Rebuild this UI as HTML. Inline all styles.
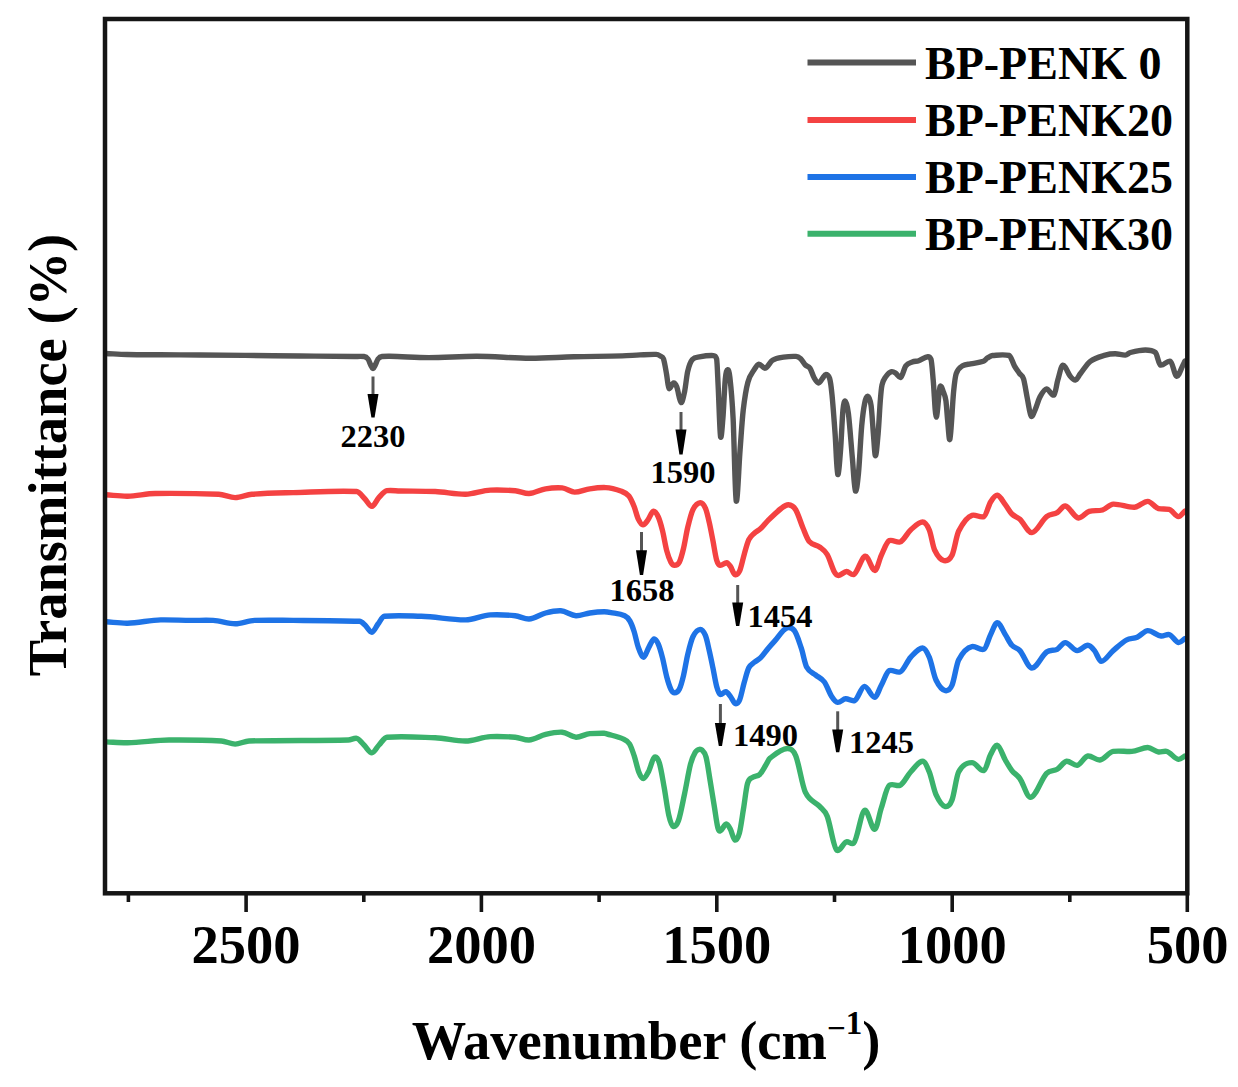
<!DOCTYPE html>
<html><head><meta charset="utf-8"><style>
html,body{margin:0;padding:0;background:#fff;}
body{width:1238px;height:1087px;overflow:hidden;}
svg{display:block;}
text{font-family:"Liberation Serif",serif;font-weight:bold;fill:#000;}
</style></head><body>
<svg width="1238" height="1087" viewBox="0 0 1238 1087">
<g fill="none" stroke-width="5.4" stroke-linejoin="round" stroke-linecap="round"><path d="M106.0 353.5C113.00 353.83 120.00 354.33 127.0 354.5C138.00 354.76 149.00 354.72 160.0 354.8C173.33 354.89 186.67 354.91 200.0 355.0C215.00 355.11 230.00 355.25 245.0 355.4C263.33 355.58 281.67 355.81 300.0 356.0C318.00 356.18 336.00 356.43 354.0 356.5C357.33 356.51 360.67 356.20 364.0 356.5C365.33 356.62 366.67 357.22 368.0 359.0C369.67 361.22 371.33 368.50 373.0 368.5C374.67 368.50 376.33 361.22 378.0 359.0C379.33 357.22 380.67 356.60 382.0 356.5C384.57 356.30 387.13 356.27 389.7 356.3C402.63 356.45 415.57 357.60 428.5 357.6C444.63 357.60 460.77 356.24 476.9 356.3C494.67 356.36 512.43 358.25 530.2 358.3C544.73 358.34 559.27 357.18 573.8 356.8C589.97 356.38 606.13 356.36 622.3 355.9C628.20 355.73 634.10 355.16 640.0 354.9C645.40 354.66 650.80 354.23 656.2 354.4C657.70 354.45 659.20 355.30 660.7 356.2C661.63 356.76 662.57 356.20 663.5 358.8C664.53 361.68 665.57 368.72 666.6 374.4C667.37 378.62 668.13 388.03 668.9 388.5C670.47 389.46 672.03 383.16 673.6 383.0C674.67 382.89 675.73 384.07 676.8 386.9C678.20 390.61 679.60 402.18 681.0 402.6C682.20 402.96 683.40 397.21 684.6 391.6C685.63 386.77 686.67 375.54 687.7 371.3C689.27 364.87 690.83 361.41 692.4 359.6C694.73 356.90 697.07 357.34 699.4 356.9C704.10 356.01 708.80 355.34 713.5 355.6C714.53 355.66 715.57 355.60 716.6 358.8C717.13 360.45 717.67 376.47 718.2 386.9C719.00 402.54 719.80 434.34 720.6 437.0C721.37 439.55 722.13 427.64 722.9 418.2C723.70 408.34 724.50 387.36 725.3 379.1C726.07 371.19 726.83 369.83 727.6 369.7C728.37 369.57 729.13 370.74 729.9 377.5C730.97 386.91 732.03 397.27 733.1 418.2C734.13 438.47 735.17 498.79 736.2 501.1C737.50 504.01 738.80 466.34 740.1 449.5C741.13 436.11 742.17 419.32 743.2 410.4C744.77 396.88 746.33 388.00 747.9 382.2C750.00 374.43 752.10 373.14 754.2 369.7C755.77 367.14 757.33 364.31 758.9 364.2C760.97 364.06 763.03 368.50 765.1 368.2C767.57 367.85 770.03 361.77 772.5 360.3C776.17 358.11 779.83 357.81 783.5 357.2C787.67 356.51 791.83 356.21 796.0 356.4C797.57 356.47 799.13 357.37 800.7 358.8C802.27 360.23 803.83 363.42 805.4 365.0C806.93 366.55 808.47 365.97 810.0 368.2C811.33 370.14 812.67 375.23 814.0 377.5C815.57 380.17 817.13 382.93 818.7 383.0C820.00 383.06 821.30 379.90 822.6 378.3C823.63 377.03 824.67 374.40 825.7 374.4C827.00 374.40 828.30 374.40 829.6 378.3C830.40 380.70 831.20 386.61 832.0 394.7C833.03 405.15 834.07 419.43 835.1 433.9C835.97 446.03 836.83 473.27 837.7 474.5C838.67 475.87 839.63 461.42 840.6 449.5C841.37 440.05 842.13 418.31 842.9 410.4C843.70 402.14 844.50 400.77 845.3 401.0C846.33 401.29 847.37 405.19 848.4 413.5C849.70 423.96 851.00 442.91 852.3 457.3C853.33 468.74 854.37 489.69 855.4 491.0C856.43 492.31 857.47 483.66 858.5 473.0C859.57 461.99 860.63 437.92 861.7 426.0C862.73 414.45 863.77 407.55 864.8 402.6C865.83 397.65 866.87 396.05 867.9 396.3C868.97 396.56 870.03 398.41 871.1 405.7C871.87 410.94 872.63 424.97 873.4 433.9C874.07 441.67 874.73 455.80 875.4 455.8C876.30 455.80 877.20 444.05 878.1 433.9C878.87 425.25 879.63 409.01 880.4 399.4C880.93 392.71 881.47 387.43 882.0 385.0C883.07 380.13 884.13 378.98 885.2 377.5C887.33 374.54 889.47 372.17 891.6 371.7C892.90 371.42 894.20 372.17 895.5 373.0C897.23 374.10 898.97 378.11 900.7 377.5C902.40 376.91 904.10 368.07 905.8 365.8C907.97 362.90 910.13 362.85 912.3 362.0C914.47 361.15 916.63 361.43 918.8 360.7C921.80 359.69 924.80 356.96 927.8 356.8C928.87 356.74 929.93 356.80 931.0 359.4C931.73 361.19 932.47 371.88 933.2 380.0C934.20 391.08 935.20 416.53 936.2 417.0C937.50 417.61 938.80 388.82 940.1 386.5C941.17 384.60 942.23 389.09 943.3 391.7C944.17 393.82 945.03 395.00 945.9 400.7C946.47 404.43 947.03 414.36 947.6 420.0C948.33 427.30 949.07 441.23 949.8 439.5C951.07 436.51 952.33 404.74 953.6 391.7C954.47 382.78 955.33 376.07 956.2 373.6C958.37 367.43 960.53 367.27 962.7 365.8C965.30 364.04 967.90 364.47 970.5 363.9C974.80 362.97 979.10 362.78 983.4 361.3C984.70 360.85 986.00 358.94 987.3 358.1C989.00 357.00 990.70 355.60 992.4 355.5C998.00 355.17 1003.60 354.19 1009.2 355.5C1010.93 355.91 1012.67 362.78 1014.4 365.8C1016.13 368.82 1017.87 371.12 1019.6 373.6C1020.90 375.46 1022.20 374.65 1023.5 378.8C1024.77 382.85 1026.03 392.03 1027.3 398.2C1028.60 404.53 1029.90 415.33 1031.2 416.3C1032.50 417.27 1033.80 412.67 1035.1 409.8C1036.73 406.20 1038.37 399.89 1040.0 396.9C1042.17 392.93 1044.33 389.04 1046.5 388.9C1049.00 388.74 1051.50 396.07 1054.0 395.1C1055.27 394.61 1056.53 384.42 1057.8 380.1C1059.47 374.42 1061.13 365.35 1062.8 365.1C1065.30 364.72 1067.80 373.30 1070.3 376.3C1071.97 378.30 1073.63 380.31 1075.3 380.1C1076.97 379.89 1078.63 375.89 1080.3 373.8C1083.63 369.62 1086.97 363.79 1090.3 361.3C1095.30 357.56 1100.30 356.60 1105.3 355.1C1108.63 354.10 1111.97 353.80 1115.3 353.8C1118.67 353.80 1122.03 355.24 1125.4 355.1C1127.07 355.03 1128.73 352.93 1130.4 352.5C1135.40 351.23 1140.40 350.00 1145.4 350.0C1148.73 350.00 1152.07 350.00 1155.4 352.5C1157.07 353.75 1158.73 364.61 1160.4 365.1C1163.73 366.08 1167.07 360.15 1170.4 361.3C1172.50 362.02 1174.60 375.98 1176.7 376.3C1178.80 376.62 1180.90 368.97 1183.0 365.1C1183.67 363.87 1184.33 362.37 1185.0 361.0" stroke="#555555"/><path d="M106.0 494.8C113.20 495.27 120.40 496.30 127.6 496.2C136.80 496.08 146.00 493.60 155.2 493.5C176.37 493.28 197.53 493.50 218.7 494.3C224.20 494.51 229.70 497.60 235.2 497.6C240.73 497.60 246.27 494.78 251.8 494.3C265.60 493.11 279.40 492.97 293.2 492.6C314.37 492.04 335.53 490.56 356.7 491.5C359.47 491.62 362.23 496.29 365.0 499.0C367.30 501.25 369.60 506.52 371.9 506.4C374.20 506.28 376.50 499.99 378.8 497.6C381.53 494.76 384.27 491.13 387.0 490.7C391.33 490.03 395.67 490.93 400.0 491.0C411.73 491.19 423.47 491.00 435.2 491.5C445.33 491.93 455.47 494.43 465.6 494.3C473.87 494.20 482.13 490.40 490.4 490.1C498.67 489.80 506.93 490.10 515.2 490.7C519.80 491.03 524.40 493.64 529.0 493.5C534.53 493.33 540.07 489.70 545.6 488.8C551.13 487.90 556.67 487.59 562.2 487.9C566.33 488.14 570.47 492.03 574.6 492.1C579.67 492.18 584.73 489.53 589.8 488.8C595.13 488.03 600.47 487.39 605.8 487.6C611.03 487.81 616.27 489.40 621.5 491.3C623.97 492.20 626.43 493.02 628.9 496.0C630.63 498.09 632.37 502.24 634.1 506.5C635.50 509.94 636.90 516.21 638.3 519.1C639.87 522.34 641.43 524.81 643.0 524.9C644.60 524.99 646.20 522.29 647.8 520.2C649.70 517.72 651.60 511.49 653.5 511.2C655.10 510.96 656.70 513.53 658.3 517.0C659.70 520.03 661.10 525.10 662.5 530.7C663.90 536.30 665.30 545.35 666.7 550.6C668.10 555.85 669.50 559.56 670.9 562.2C672.10 564.46 673.30 565.30 674.5 565.3C676.10 565.30 677.70 565.19 679.3 562.2C680.70 559.59 682.10 554.28 683.5 548.5C684.90 542.72 686.30 533.28 687.7 527.5C689.43 520.35 691.17 513.10 692.9 509.7C695.37 504.86 697.83 502.93 700.3 502.8C702.03 502.71 703.77 504.62 705.5 508.4C706.73 511.09 707.97 516.83 709.2 522.2C710.43 527.57 711.67 534.32 712.9 540.6C714.13 546.88 715.37 555.71 716.6 559.9C717.80 563.98 719.00 565.23 720.2 565.4C722.37 565.70 724.53 562.59 726.7 562.7C727.93 562.76 729.17 564.63 730.4 566.4C731.93 568.60 733.47 574.22 735.0 574.6C736.53 574.98 738.07 574.37 739.6 571.0C741.13 567.63 742.67 559.62 744.2 554.4C745.73 549.18 747.27 542.92 748.8 539.7C750.63 535.85 752.47 534.91 754.3 533.2C756.43 531.21 758.57 530.58 760.7 528.6C763.17 526.31 765.63 522.83 768.1 520.4C772.43 516.13 776.77 511.83 781.1 508.5C783.53 506.63 785.97 504.70 788.4 504.8C790.83 504.90 793.27 505.84 795.7 509.7C798.10 513.51 800.50 522.12 802.9 527.8C804.93 532.62 806.97 538.88 809.0 541.2C812.63 545.35 816.27 544.54 819.9 547.2C822.33 548.98 824.77 550.34 827.2 554.5C829.60 558.60 832.00 567.54 834.4 572.0C835.77 574.54 837.13 575.53 838.5 575.5C841.17 575.44 843.83 571.59 846.5 571.5C848.93 571.42 851.37 575.48 853.8 574.5C857.63 572.95 861.47 556.66 865.3 556.3C868.53 555.99 871.77 570.60 875.0 570.5C877.10 570.43 879.20 559.69 881.3 555.3C883.97 549.72 886.63 541.55 889.3 540.6C892.87 539.33 896.43 542.89 900.0 542.0C903.53 541.12 907.07 533.13 910.6 530.0C914.60 526.46 918.60 522.00 922.6 522.0C924.83 522.00 927.07 524.79 929.3 530.0C931.07 534.12 932.83 546.32 934.6 550.0C937.73 556.52 940.87 560.12 944.0 560.6C946.67 561.01 949.33 560.60 952.0 555.3C954.20 550.93 956.40 535.70 958.6 531.3C963.07 522.37 967.53 516.60 972.0 515.3C975.97 514.15 979.93 518.02 983.9 516.6C986.13 515.80 988.37 505.55 990.6 502.0C992.83 498.45 995.07 495.10 997.3 495.3C999.97 495.54 1002.63 501.18 1005.3 504.6C1007.50 507.42 1009.70 511.78 1011.9 514.0C1014.57 516.68 1017.23 516.82 1019.9 519.3C1023.90 523.02 1027.90 532.80 1031.9 532.6C1036.80 532.35 1041.70 520.47 1046.6 516.6C1050.13 513.81 1053.67 514.61 1057.2 512.6C1059.87 511.08 1062.53 505.66 1065.2 506.0C1069.63 506.56 1074.07 517.51 1078.5 518.0C1082.07 518.39 1085.63 512.35 1089.2 511.3C1093.63 510.00 1098.07 511.30 1102.5 510.0C1106.07 508.95 1109.63 504.25 1113.2 504.1C1120.30 503.80 1127.40 507.58 1134.5 507.3C1138.93 507.13 1143.37 501.28 1147.8 501.4C1151.37 501.50 1154.93 507.80 1158.5 508.6C1162.07 509.40 1165.63 508.60 1169.2 509.4C1172.30 510.10 1175.40 516.44 1178.5 516.6C1180.67 516.71 1182.83 512.87 1185.0 511.0" stroke="#f44242"/><path d="M106.0 621.8C113.20 622.27 120.40 623.33 127.6 623.2C138.63 623.01 149.67 620.14 160.7 619.9C170.83 619.68 180.97 620.35 191.1 620.4C198.47 620.44 205.83 620.12 213.2 620.4C220.53 620.67 227.87 623.70 235.2 623.7C241.67 623.70 248.13 620.58 254.6 620.4C267.47 620.03 280.33 620.34 293.2 620.4C315.30 620.49 337.40 620.40 359.5 621.3C361.33 621.37 363.17 623.37 365.0 625.0C367.30 627.04 369.60 632.39 371.9 632.3C373.93 632.22 375.97 626.62 378.0 624.0C380.10 621.29 382.20 616.49 384.3 616.3C396.67 615.20 409.03 616.03 421.4 616.3C436.13 616.63 450.87 620.05 465.6 619.9C473.87 619.82 482.13 615.25 490.4 614.9C498.67 614.55 506.93 614.90 515.2 615.7C519.80 616.15 524.40 619.20 529.0 619.0C534.53 618.75 540.07 614.43 545.6 613.0C550.67 611.69 555.73 610.57 560.8 610.8C565.87 611.02 570.93 615.51 576.0 615.7C580.60 615.87 585.20 613.64 589.8 613.0C594.60 612.34 599.40 611.85 604.2 611.8C606.47 611.78 608.73 612.16 611.0 612.6C615.57 613.49 620.13 613.77 624.7 615.8C626.43 616.57 628.17 618.10 629.9 621.0C631.30 623.34 632.70 627.12 634.1 631.5C635.50 635.88 636.90 643.51 638.3 647.3C640.07 652.08 641.83 657.20 643.6 657.2C645.33 657.20 647.07 650.32 648.8 647.3C650.57 644.22 652.33 639.20 654.1 638.9C655.50 638.66 656.90 640.95 658.3 644.1C659.70 647.25 661.10 652.37 662.5 657.8C663.90 663.23 665.30 671.45 666.7 676.7C668.10 681.95 669.50 686.39 670.9 689.3C672.10 691.79 673.30 692.90 674.5 692.9C676.10 692.90 677.70 692.38 679.3 689.3C680.70 686.61 682.10 681.38 683.5 675.6C684.90 669.82 686.30 660.38 687.7 654.6C689.43 647.45 691.17 640.27 692.9 636.8C695.37 631.87 697.83 629.52 700.3 629.4C702.03 629.32 703.77 631.51 705.5 635.6C706.73 638.51 707.97 645.03 709.2 650.4C710.43 655.77 711.67 661.83 712.9 667.8C714.13 673.77 715.37 681.69 716.6 686.2C717.80 690.59 719.00 694.13 720.2 694.5C722.07 695.07 723.93 691.63 725.8 691.8C727.33 691.94 728.87 694.50 730.4 696.4C732.07 698.47 733.73 703.37 735.4 703.7C736.80 703.97 738.20 703.36 739.6 700.0C741.13 696.32 742.67 687.97 744.2 682.6C745.73 677.23 747.27 670.88 748.8 667.8C750.63 664.12 752.47 663.86 754.3 662.3C756.43 660.49 758.57 659.83 760.7 657.7C763.17 655.23 765.63 651.45 768.1 648.5C770.27 645.91 772.43 643.46 774.6 641.1C778.77 636.56 782.93 628.94 787.1 627.8C789.47 627.15 791.83 627.80 794.2 630.4C796.57 633.00 798.93 641.23 801.3 648.2C803.07 653.40 804.83 663.58 806.6 666.9C809.57 672.48 812.53 672.38 815.5 674.9C818.47 677.42 821.43 678.05 824.4 682.0C826.77 685.15 829.13 692.57 831.5 696.2C833.57 699.37 835.63 702.21 837.7 702.4C840.37 702.64 843.03 698.94 845.7 698.8C848.67 698.64 851.63 701.58 854.6 700.6C857.87 699.52 861.13 686.67 864.4 686.4C867.83 686.12 871.27 697.41 874.7 697.3C876.90 697.23 879.10 689.32 881.3 685.3C883.97 680.42 886.63 671.55 889.3 670.6C892.87 669.33 896.43 673.11 900.0 672.0C903.53 670.90 907.07 661.05 910.6 657.3C914.60 653.05 918.60 648.00 922.6 648.0C924.83 648.00 927.07 651.97 929.3 657.3C931.53 662.63 933.77 675.35 936.0 680.0C939.10 686.45 942.20 690.09 945.3 690.6C947.53 690.97 949.77 690.44 952.0 685.3C954.20 680.24 956.40 664.26 958.6 660.0C963.07 651.36 967.53 647.54 972.0 646.6C975.97 645.76 979.93 650.58 983.9 649.3C986.13 648.58 988.37 639.03 990.6 634.6C992.83 630.17 995.07 622.70 997.3 622.7C999.97 622.70 1002.63 630.47 1005.3 634.6C1007.50 638.01 1009.70 642.89 1011.9 645.3C1014.57 648.22 1017.23 647.57 1019.9 650.6C1023.90 655.14 1027.90 667.90 1031.9 668.0C1036.80 668.13 1041.70 655.62 1046.6 652.0C1050.13 649.39 1053.67 651.09 1057.2 649.3C1059.87 647.95 1062.53 642.51 1065.2 642.6C1069.20 642.73 1073.20 650.36 1077.2 650.6C1080.77 650.81 1084.33 645.30 1087.9 645.3C1090.10 645.30 1092.30 647.95 1094.5 650.6C1096.73 653.29 1098.97 661.30 1101.2 661.3C1105.20 661.30 1109.20 653.97 1113.2 650.6C1117.63 646.87 1122.07 642.46 1126.5 640.0C1130.07 638.02 1133.63 638.87 1137.2 637.3C1140.73 635.74 1144.27 630.70 1147.8 630.6C1152.27 630.48 1156.73 635.58 1161.2 636.0C1163.87 636.25 1166.53 634.09 1169.2 634.6C1172.30 635.19 1175.40 642.21 1178.5 642.6C1180.67 642.87 1182.83 639.93 1185.0 638.6" stroke="#1e73e6"/><path d="M106.0 741.9C113.20 742.17 120.40 742.81 127.6 742.7C141.40 742.49 155.20 740.13 169.0 740.0C186.47 739.84 203.93 740.00 221.4 741.0C226.00 741.26 230.60 744.10 235.2 744.1C239.80 744.10 244.40 741.14 249.0 741.0C282.13 740.00 315.27 740.83 348.4 740.0C351.17 739.93 353.93 737.86 356.7 738.3C359.13 738.69 361.57 742.66 364.0 745.0C366.63 747.53 369.27 752.90 371.9 752.9C374.27 752.90 376.63 747.46 379.0 745.0C381.67 742.23 384.33 737.37 387.0 737.2C403.07 736.16 419.13 737.20 435.2 737.7C445.33 738.02 455.47 741.10 465.6 741.0C473.87 740.92 482.13 736.92 490.4 736.6C498.67 736.28 506.93 736.60 515.2 737.2C519.80 737.53 524.40 740.21 529.0 740.0C534.53 739.75 540.07 735.70 545.6 734.4C551.13 733.10 556.67 731.95 562.2 732.2C566.80 732.41 571.40 737.08 576.0 737.2C580.60 737.32 585.20 733.98 589.8 733.6C594.60 733.20 599.40 733.17 604.2 733.2C605.03 733.20 605.87 733.55 606.7 733.8C612.30 735.51 617.90 736.62 623.5 739.1C625.50 739.99 627.50 740.76 629.5 743.9C631.07 746.36 632.63 751.17 634.2 755.9C635.80 760.73 637.40 768.56 639.0 772.6C640.40 776.13 641.80 778.69 643.2 778.6C645.00 778.49 646.80 774.79 648.6 771.4C650.60 767.63 652.60 757.87 654.6 757.1C656.20 756.49 657.80 758.06 659.4 763.1C660.97 768.03 662.53 778.33 664.1 787.0C665.70 795.86 667.30 808.70 668.9 815.7C670.30 821.83 671.70 826.05 673.1 826.4C674.90 826.85 676.70 825.60 678.5 820.5C680.50 814.83 682.50 803.48 684.5 794.1C686.50 784.72 688.50 772.01 690.5 764.2C692.07 758.08 693.63 754.92 695.2 752.3C696.60 749.96 698.00 749.53 699.4 749.3C700.27 749.16 701.13 749.30 702.0 750.1C703.37 751.36 704.73 752.07 706.1 757.2C707.43 762.20 708.77 772.52 710.1 780.5C711.47 788.68 712.83 797.52 714.2 805.7C715.53 813.68 716.87 825.00 718.2 829.0C718.87 831.00 719.53 831.21 720.2 831.0C722.23 830.37 724.27 824.20 726.3 824.0C727.63 823.87 728.97 826.50 730.3 829.0C731.83 831.87 733.37 839.75 734.9 840.1C736.40 840.44 737.90 838.56 739.4 833.1C740.77 828.13 742.13 817.17 743.5 808.8C744.83 800.64 746.17 788.10 747.5 783.5C749.20 777.63 750.90 778.67 752.6 777.4C754.97 775.63 757.33 776.59 759.7 774.4C761.70 772.55 763.70 768.45 765.7 765.3C767.13 763.05 768.57 759.32 770.0 758.2C775.73 753.72 781.47 748.78 787.2 748.5C790.03 748.36 792.87 748.87 795.7 755.7C798.90 763.41 802.10 785.37 805.3 792.1C810.17 802.34 815.03 801.22 819.9 806.6C822.33 809.29 824.77 810.02 827.2 816.3C830.40 824.56 833.60 848.09 836.8 850.2C840.03 852.34 843.27 842.48 846.5 841.8C848.93 841.28 851.37 845.11 853.8 843.0C857.43 839.85 861.07 811.39 864.7 810.2C868.03 809.11 871.37 829.52 874.7 829.3C876.90 829.15 879.10 814.63 881.3 808.0C883.97 799.96 886.63 786.92 889.3 785.3C892.87 783.14 896.43 786.41 900.0 785.3C903.53 784.20 907.07 775.75 910.6 772.0C914.60 767.75 918.60 761.30 922.6 761.3C924.83 761.30 927.07 766.45 929.3 772.0C931.53 777.55 933.77 789.77 936.0 794.6C939.10 801.30 942.20 806.08 945.3 806.6C947.53 806.98 949.77 805.81 952.0 800.0C954.20 794.28 956.40 776.11 958.6 772.0C963.07 763.65 967.53 762.72 972.0 762.6C975.97 762.49 979.93 771.45 983.9 770.6C986.13 770.12 988.37 758.82 990.6 754.6C992.83 750.38 995.07 744.89 997.3 745.3C999.97 745.79 1002.63 755.38 1005.3 760.0C1007.50 763.81 1009.70 767.80 1011.9 770.6C1014.57 774.00 1017.23 774.79 1019.9 778.6C1023.47 783.69 1027.03 797.65 1030.6 797.3C1035.93 796.77 1041.27 778.91 1046.6 773.3C1050.13 769.58 1053.67 771.42 1057.2 769.3C1060.33 767.42 1063.47 761.61 1066.6 761.3C1070.13 760.95 1073.67 765.74 1077.2 765.3C1080.77 764.86 1084.33 756.42 1087.9 756.0C1091.90 755.53 1095.90 760.36 1099.9 760.0C1104.33 759.60 1108.77 752.00 1113.2 751.4C1119.43 750.56 1125.67 751.75 1131.9 751.4C1137.20 751.10 1142.50 747.44 1147.8 747.5C1151.37 747.54 1154.93 751.63 1158.5 752.0C1161.17 752.28 1163.83 750.91 1166.5 751.4C1170.50 752.14 1174.50 758.90 1178.5 759.4C1180.67 759.67 1182.83 757.13 1185.0 756.0" stroke="#3bb26c"/></g>
<g stroke-linecap="butt"><line x1="373.0" y1="376.5" x2="373.0" y2="396.0" stroke="#555" stroke-width="3"/><path d="M367.5 394.0L378.5 394.0L374.6 417.5L371.4 417.5Z" fill="#000"/><line x1="681.0" y1="412.0" x2="681.0" y2="431.5" stroke="#555" stroke-width="3"/><path d="M675.5 429.5L686.5 429.5L682.6 454.5L679.4 454.5Z" fill="#000"/><line x1="641.5" y1="532.0" x2="641.5" y2="552.3" stroke="#555" stroke-width="3"/><path d="M636.0 550.3L647.0 550.3L643.1 575.0L639.9 575.0Z" fill="#000"/><line x1="737.7" y1="585.0" x2="737.7" y2="604.5" stroke="#555" stroke-width="3"/><path d="M732.2 602.5L743.2 602.5L739.3 626.0L736.1 626.0Z" fill="#000"/><line x1="720.4" y1="704.0" x2="720.4" y2="725.0" stroke="#555" stroke-width="3"/><path d="M714.9 723.0L725.9 723.0L722.0 746.0L718.8 746.0Z" fill="#000"/><line x1="837.7" y1="711.3" x2="837.7" y2="731.5" stroke="#555" stroke-width="3"/><path d="M832.2 729.5L843.2 729.5L839.3 752.2L836.1 752.2Z" fill="#000"/></g>
<g font-size="32.5"><text x="373.0" y="447.0" text-anchor="middle">2230</text><text x="683.0" y="483.0" text-anchor="middle">1590</text><text x="642.0" y="600.5" text-anchor="middle">1658</text><text x="747.5" y="626.5" text-anchor="start">1454</text><text x="733.0" y="745.5" text-anchor="start">1490</text><text x="849.0" y="752.5" text-anchor="start">1245</text></g>
<g stroke-linecap="butt"><line x1="807.5" y1="62.6" x2="916" y2="62.6" stroke="#555555" stroke-width="6.0"/><text font-size="46" x="925" y="78.6">BP-PENK 0</text><line x1="807.5" y1="119.9" x2="916" y2="119.9" stroke="#f44242" stroke-width="6.0"/><text font-size="46" x="925" y="135.9">BP-PENK20</text><line x1="807.5" y1="177.0" x2="916" y2="177.0" stroke="#1e73e6" stroke-width="6.0"/><text font-size="46" x="925" y="193.0">BP-PENK25</text><line x1="807.5" y1="233.8" x2="916" y2="233.8" stroke="#3bb26c" stroke-width="6.0"/><text font-size="46" x="925" y="249.8">BP-PENK30</text></g>
<rect x="105.0" y="19.0" width="1082.3" height="874.3" fill="none" stroke="#151515" stroke-width="4.5"/>
<g stroke="#151515" stroke-width="3.6"><line x1="1069.8" y1="893.3" x2="1069.8" y2="902.0"/><line x1="952.2" y1="893.3" x2="952.2" y2="912.0"/><line x1="834.5" y1="893.3" x2="834.5" y2="902.0"/><line x1="716.8" y1="893.3" x2="716.8" y2="912.0"/><line x1="599.1" y1="893.3" x2="599.1" y2="902.0"/><line x1="481.4" y1="893.3" x2="481.4" y2="912.0"/><line x1="363.8" y1="893.3" x2="363.8" y2="902.0"/><line x1="246.1" y1="893.3" x2="246.1" y2="912.0"/><line x1="128.4" y1="893.3" x2="128.4" y2="902.0"/><line x1="1187.3" y1="893.3" x2="1187.3" y2="912.0"/></g>
<g font-size="54.5"><text x="246.1" y="963" text-anchor="middle">2500</text><text x="481.4" y="963" text-anchor="middle">2000</text><text x="716.8" y="963" text-anchor="middle">1500</text><text x="952.2" y="963" text-anchor="middle">1000</text><text x="1187.5" y="963" text-anchor="middle">500</text></g>
<text transform="translate(65.5,455) rotate(-90)" text-anchor="middle" font-size="54.5">Transmittance (%)</text>
<text x="646" y="1059" text-anchor="middle" font-size="54.5">Wavenumber (cm<tspan font-size="33" dy="-20.5">&#8722;</tspan><tspan font-size="33" dy="-4.5">1</tspan><tspan dy="25">)</tspan></text>
</svg>
</body></html>
